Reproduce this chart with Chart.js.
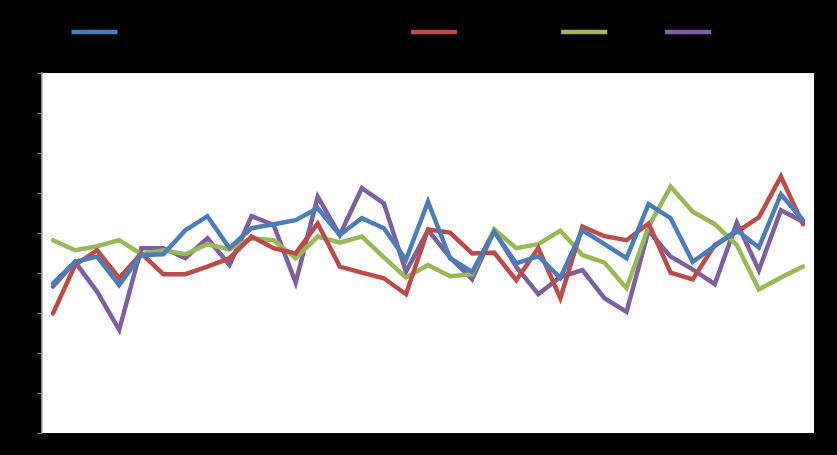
<!DOCTYPE html>
<html>
<head>
<meta charset="utf-8">
<script src="https://cdn.jsdelivr.net/npm/chart.js@4.4.1/dist/chart.umd.min.js"></script>
<style>
  html, body { margin: 0; padding: 0; background: #000; }
  #wrap { width: 837px; height: 455px; position: relative; }
</style>
</head>
<body>
<div id="wrap"><canvas id="c" width="837" height="455"></canvas></div>
<script>
const categories = ["1","2","3","4","5","6","7","8","9","10","11","12","13","14","15","16","17","18","19","20","21","22","23","24","25","26","27","28","29","30","31","32","33","34","35"];
const seriesNames = ["Series 1 (blue line, a long legend label text here, t)", "Series 2 – red.", "Ser 3.", "Ser4"];
const yTicks = [0,1,2,3,4,5,6,7,8,9];

const blue   = [3.74,4.28,4.41,3.70,4.45,4.47,5.07,5.42,4.62,5.12,5.22,5.32,5.62,4.95,5.37,5.12,4.33,5.78,4.37,4.03,5.03,4.24,4.42,3.88,5.07,4.72,4.37,5.72,5.37,4.28,4.67,5.07,4.64,5.97,5.32];
const red    = [2.99,4.20,4.57,3.87,4.49,3.97,3.97,4.16,4.37,4.91,4.62,4.49,5.24,4.16,4.01,3.87,3.47,5.09,5.01,4.49,4.51,3.82,4.62,3.37,5.16,4.92,4.82,5.24,4.01,3.84,4.70,5.03,5.39,6.41,5.22];
const green  = [4.82,4.57,4.67,4.82,4.47,4.57,4.47,4.72,4.59,4.87,4.82,4.37,4.91,4.76,4.91,4.39,3.89,4.20,3.92,3.97,5.09,4.62,4.72,5.06,4.45,4.26,3.62,5.16,6.16,5.53,5.22,4.70,3.59,3.89,4.16];
const purple = [3.66,4.28,3.53,2.58,4.62,4.62,4.37,4.87,4.20,5.42,5.20,3.76,5.91,4.95,6.12,5.74,4.03,5.07,4.39,3.84,5.06,4.16,3.47,3.90,4.07,3.37,3.03,5.06,4.41,4.09,3.72,5.26,4.07,5.57,5.28];

const colors = ["#4A7EBB", "#BE4B48", "#98B954", "#7D60A0"];
const seriesData = [blue, red, green, purple];

const areaBg = {
  id: 'areaBg',
  beforeInit(chart) {
    const lg = chart.legend;
    if (lg) {
      const origFit = lg.fit;
      lg.fit = function () { origFit.call(this); this.height += 25; };
    }
  },
  beforeDraw(chart) {
    const {ctx, chartArea: a} = chart;
    ctx.save();
    ctx.fillStyle = '#000';
    ctx.fillRect(0, 0, chart.width, chart.height);
    ctx.fillStyle = '#fff';
    ctx.fillRect(a.left, a.top, a.right - a.left, a.bottom - a.top);
    ctx.restore();
  }
};

new Chart(document.getElementById('c'), {
  type: 'line',
  data: {
    labels: categories,
    datasets: seriesData.map((d, i) => ({
      label: seriesNames[i],
      data: d,
      borderColor: colors[i],
      backgroundColor: colors[i],
      borderWidth: 4.5,
      pointRadius: 0,
      pointHoverRadius: 0,
      tension: 0,
      fill: false,
      borderCapStyle: 'round',
      borderJoinStyle: 'miter'
    }))
  },
  options: {
    responsive: false,
    animation: false,
    devicePixelRatio: 1,
    layout: { padding: { left: 0, right: 23, top: 6, bottom: 0 } },
    plugins: {
      legend: {
        display: true,
        position: 'top',
        align: 'center',
        labels: {
          usePointStyle: true,
          pointStyle: 'line',
          pointStyleWidth: 46,
          boxHeight: 12,
          color: '#000',
          font: { family: 'Liberation Sans', size: 12 },
          padding: 20
        }
      },
      tooltip: { enabled: false }
    },
    scales: {
      x: {
        type: 'category',
        offset: true,
        grid: { display: false },
        border: { display: false },
        ticks: { color: '#000', font: { family: 'Liberation Sans', size: 11 }, maxRotation: 0, autoSkip: true },
        afterFit(scale) { scale.height = 22; }
      },
      y: {
        min: 0,
        max: 9,
        afterBuildTicks(scale) { scale.ticks = yTicks.map(v => ({ value: v })); },
        grid: { display: true, drawOnChartArea: false, drawTicks: true, tickLength: 5, color: '#868686', lineWidth: 1 },
        border: { display: true, color: '#868686', width: 1.5 },
        ticks: { color: '#000', font: { family: 'Liberation Sans', size: 11 }, padding: 3, callback: v => Number(v).toFixed(1) },
        afterFit(scale) { scale.width = 42; }
      }
    }
  },
  plugins: [areaBg]
});
</script>
</body>
</html>
